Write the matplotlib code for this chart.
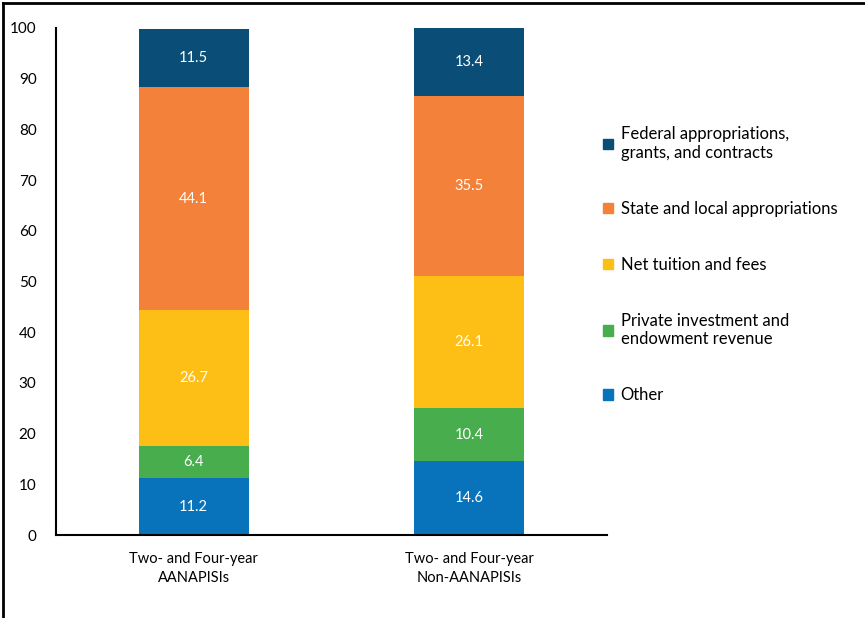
import numpy as np
import matplotlib.pyplot as plt
from matplotlib.lines import Line2D
from matplotlib.patches import Patch

plt.rcParams['font.family'] = ['Lato', 'DejaVu Sans']

groups = ['Two- and Four-year\nAANAPISIs', 'Two- and Four-year\nNon-AANAPISIs']
series = ['Other', 'Private investment and\nendowment revenue', 'Net tuition and fees',
          'State and local appropriations', 'Federal appropriations,\ngrants, and contracts']
other = [11.2, 14.6]
private = [6.4, 10.4]
tuition = [26.7, 26.1]
state = [44.1, 35.5]
federal = [11.5, 13.4]
values = [other, private, tuition, state, federal]
colors = ['#0873BA', '#48AD4D', '#FDBE15', '#F3813A', '#0A4E78']

fig = plt.figure(figsize=(8.65, 6.18), dpi=100)
ax = fig.add_axes([0.0647, 0.1343, 0.637, 0.8204])

x = np.arange(len(groups))
bottom = np.zeros(len(groups))
for vals, col in zip(values, colors):
    ax.bar(x, vals, 0.4, bottom=bottom, color=col)
    for xi, b, v in zip(x, bottom, vals):
        ax.text(xi, b + v / 2, f'{v:.1f}', ha='center', va='center',
                color='white', fontsize=10.5)
    bottom += np.array(vals)

ax.set_xlim(-0.5, 1.5)
ax.set_ylim(0, 100)
ax.set_yticks(range(0, 101, 10))
ax.set_xticks(x)
ax.set_xticklabels(groups, fontsize=10.5, linespacing=1.5)
ax.tick_params(axis='y', length=0, labelsize=11, pad=14)
ax.tick_params(axis='x', length=0, pad=12)
for s in ['top', 'right']:
    ax.spines[s].set_visible(False)
ax.spines['left'].set_linewidth(1.5)
ax.spines['bottom'].set_linewidth(1.5)

handles = [Patch(color=c) for c in colors][::-1]
leg = fig.legend(handles, series[::-1], loc='upper left', bbox_to_anchor=(0.68, 0.82),
                 frameon=False, fontsize=12, handlelength=0.6, handleheight=0.6,
                 handletextpad=0.45, labelspacing=2.4)

# border of the original picture
fig.add_artist(Line2D([0.004, 1], [0.995, 0.995], color='black', lw=2, transform=fig.transFigure))
fig.add_artist(Line2D([0.004, 0.004], [0, 0.995], color='black', lw=2, transform=fig.transFigure))

fig.savefig('out.png', dpi=100)
